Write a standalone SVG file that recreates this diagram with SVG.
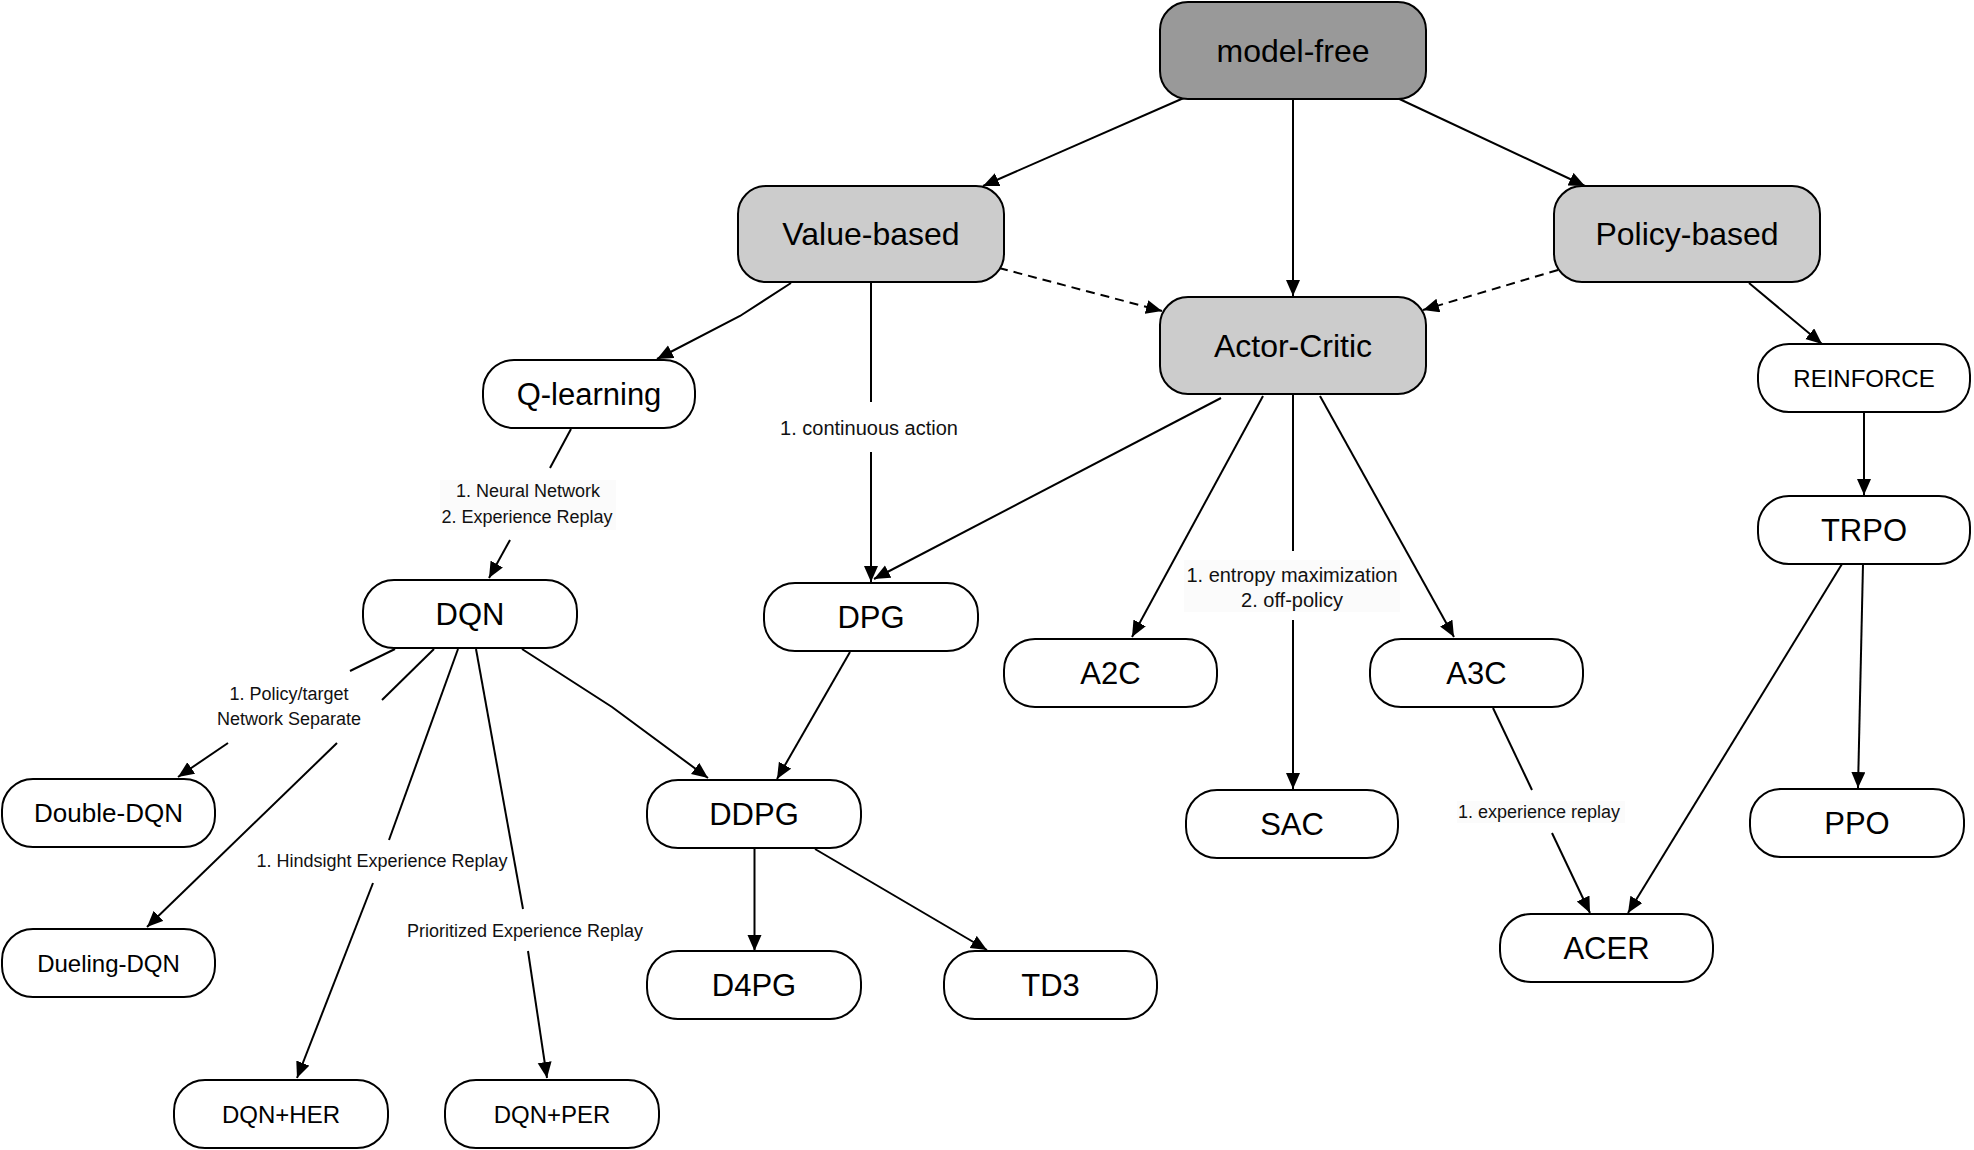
<svg xmlns="http://www.w3.org/2000/svg" width="1974" height="1150" viewBox="0 0 1974 1150">
<style>
  .node rect { stroke: #000; stroke-width: 2; }
  .white rect { fill: #ffffff; }
  .gray rect { fill: #cccccc; }
  .dark rect { fill: #999999; }
  .node text { font-family: "Liberation Sans", Arial, sans-serif; font-size: 31px; fill: #000; text-anchor: middle; dominant-baseline: central; }
  .big text { font-size: 32px; }
  .edge { fill: none; stroke: #000; stroke-width: 2; }
  .dash { stroke-dasharray: 9 6; }
  .lbl { font-family: "Liberation Sans", Arial, sans-serif; font-size: 18px; fill: #111; text-anchor: middle; dominant-baseline: central; }
  .lbl20 { font-size: 20px; }
  .lblbg { fill: #fbfbfb; }
</style>
<defs>
  <marker id="arr" markerUnits="userSpaceOnUse" markerWidth="17" markerHeight="15" refX="16" refY="7" orient="auto">
    <path d="M0,0 L16,7 L0,14 Z" fill="#000"/>
  </marker>
</defs>
<rect x="0" y="0" width="1974" height="1150" fill="#ffffff"/>

<g id="connectors">
  <path class="edge" d="M1186,97 L983,186" marker-end="url(#arr)"/>
  <path class="edge" d="M1293,99 L1293,296" marker-end="url(#arr)"/>
  <path class="edge" d="M1393,96 L1585,186" marker-end="url(#arr)"/>
  <path class="edge dash" d="M999,268 L1162,311" marker-end="url(#arr)"/>
  <path class="edge dash" d="M1558,270 L1423,310" marker-end="url(#arr)"/>
  <path class="edge" d="M1749,283 L1822,344" marker-end="url(#arr)"/>
  <path class="edge" d="M1864,412 L1864,495" marker-end="url(#arr)"/>
  <path class="edge" d="M791,283 L740,316 L657,359" marker-end="url(#arr)"/>
  <path class="edge" d="M871,283 L871,402"/>
  <path class="edge" d="M871,452 L871,582" marker-end="url(#arr)"/>
  <path class="edge" d="M1221,398 L874,579" marker-end="url(#arr)"/>
  <path class="edge" d="M1263,396 L1132,637" marker-end="url(#arr)"/>
  <path class="edge" d="M1293,394 L1293,551"/>
  <path class="edge" d="M1293,620 L1293,789" marker-end="url(#arr)"/>
  <path class="edge" d="M1320,396 L1454,637" marker-end="url(#arr)"/>
  <path class="edge" d="M571,429 L550,468"/>
  <path class="edge" d="M510,540 L489,578" marker-end="url(#arr)"/>
  <path class="edge" d="M395,649 L350,671"/>
  <path class="edge" d="M228,743 L178,777" marker-end="url(#arr)"/>
  <path class="edge" d="M434,649 L382,700"/>
  <path class="edge" d="M337,743 L147,927" marker-end="url(#arr)"/>
  <path class="edge" d="M458,649 L389,840"/>
  <path class="edge" d="M373,883 L297,1078" marker-end="url(#arr)"/>
  <path class="edge" d="M476,649 L523,909"/>
  <path class="edge" d="M528,951 L547,1078" marker-end="url(#arr)"/>
  <path class="edge" d="M522,649 L612,707 L708,778" marker-end="url(#arr)"/>
  <path class="edge" d="M850,652 L777,779" marker-end="url(#arr)"/>
  <path class="edge" d="M754.5,849 L754.5,951" marker-end="url(#arr)"/>
  <path class="edge" d="M815,849 L987,950" marker-end="url(#arr)"/>
  <path class="edge" d="M1493,708 L1532,790"/>
  <path class="edge" d="M1552,833 L1590,913" marker-end="url(#arr)"/>
  <path class="edge" d="M1842,564 L1628,913" marker-end="url(#arr)"/>
  <path class="edge" d="M1863,564 L1858,788" marker-end="url(#arr)"/>
</g>

<g id="edge-labels">
  <text class="lbl lbl20" x="869" y="428">1. continuous action</text>
  <rect class="lblbg" x="440" y="480" width="176" height="50"/>
  <text class="lbl" x="528" y="491">1. Neural Network</text>
  <text class="lbl" x="527" y="517">2. Experience Replay</text>
  <text class="lbl" x="289" y="694">1. Policy/target</text>
  <text class="lbl" x="289" y="719">Network Separate</text>
  <text class="lbl" x="382" y="861" fill="#333">1. Hindsight Experience Replay</text>
  <text class="lbl" x="525" y="931" fill="#333">Prioritized Experience Replay</text>
  <rect class="lblbg" x="1184" y="560" width="216" height="52"/>
  <text class="lbl lbl20" x="1292" y="575">1. entropy maximization</text>
  <text class="lbl lbl20" x="1292" y="600">2. off-policy</text>
  <rect class="lblbg" x="1457" y="801" width="168" height="22"/>
  <text class="lbl" x="1539" y="812">1. experience replay</text>
</g>

<g id="model-free" class="node dark big"><rect x="1160" y="2" width="266" height="97" rx="28"/><text x="1293" y="50.5">model-free</text></g>
<g id="value-based" class="node gray big"><rect x="738" y="186" width="266" height="96" rx="28"/><text x="871" y="234">Value-based</text></g>
<g id="policy-based" class="node gray big"><rect x="1554" y="186" width="266" height="96" rx="28"/><text x="1687" y="234">Policy-based</text></g>
<g id="actor-critic" class="node gray big"><rect x="1160" y="297" width="266" height="97" rx="28"/><text x="1293" y="345.5">Actor-Critic</text></g>
<g id="reinforce" class="node white"><rect x="1758" y="344" width="212" height="68" rx="31"/><text x="1864" y="378" style="font-size:24px">REINFORCE</text></g>
<g id="trpo" class="node white"><rect x="1758" y="496" width="212" height="68" rx="31"/><text x="1864" y="530">TRPO</text></g>
<g id="q-learning" class="node white"><rect x="483" y="360" width="212" height="68" rx="31"/><text x="589" y="394">Q-learning</text></g>
<g id="dqn" class="node white"><rect x="363" y="580" width="214" height="68" rx="31"/><text x="470" y="614">DQN</text></g>
<g id="dpg" class="node white"><rect x="764" y="583" width="214" height="68" rx="31"/><text x="871" y="617">DPG</text></g>
<g id="double-dqn" class="node white"><rect x="2" y="779" width="213" height="68" rx="31"/><text x="108.5" y="813" style="font-size:26px">Double-DQN</text></g>
<g id="dueling-dqn" class="node white"><rect x="2" y="929" width="213" height="68" rx="31"/><text x="108.5" y="963" style="font-size:24px">Dueling-DQN</text></g>
<g id="ddpg" class="node white"><rect x="647" y="780" width="214" height="68" rx="31"/><text x="754" y="814">DDPG</text></g>
<g id="d4pg" class="node white"><rect x="647" y="951" width="214" height="68" rx="31"/><text x="754" y="985">D4PG</text></g>
<g id="td3" class="node white"><rect x="944" y="951" width="213" height="68" rx="31"/><text x="1050.5" y="985">TD3</text></g>
<g id="dqn-her" class="node white"><rect x="174" y="1080" width="214" height="68" rx="31"/><text x="281" y="1114" style="font-size:24px">DQN+HER</text></g>
<g id="dqn-per" class="node white"><rect x="445" y="1080" width="214" height="68" rx="31"/><text x="552" y="1114" style="font-size:24px">DQN+PER</text></g>
<g id="a2c" class="node white"><rect x="1004" y="639" width="213" height="68" rx="31"/><text x="1110.5" y="673">A2C</text></g>
<g id="a3c" class="node white"><rect x="1370" y="639" width="213" height="68" rx="31"/><text x="1476.5" y="673">A3C</text></g>
<g id="sac" class="node white"><rect x="1186" y="790" width="212" height="68" rx="31"/><text x="1292" y="824">SAC</text></g>
<g id="acer" class="node white"><rect x="1500" y="914" width="213" height="68" rx="31"/><text x="1606.5" y="948">ACER</text></g>
<g id="ppo" class="node white"><rect x="1750" y="789" width="214" height="68" rx="31"/><text x="1857" y="823">PPO</text></g>
</svg>
